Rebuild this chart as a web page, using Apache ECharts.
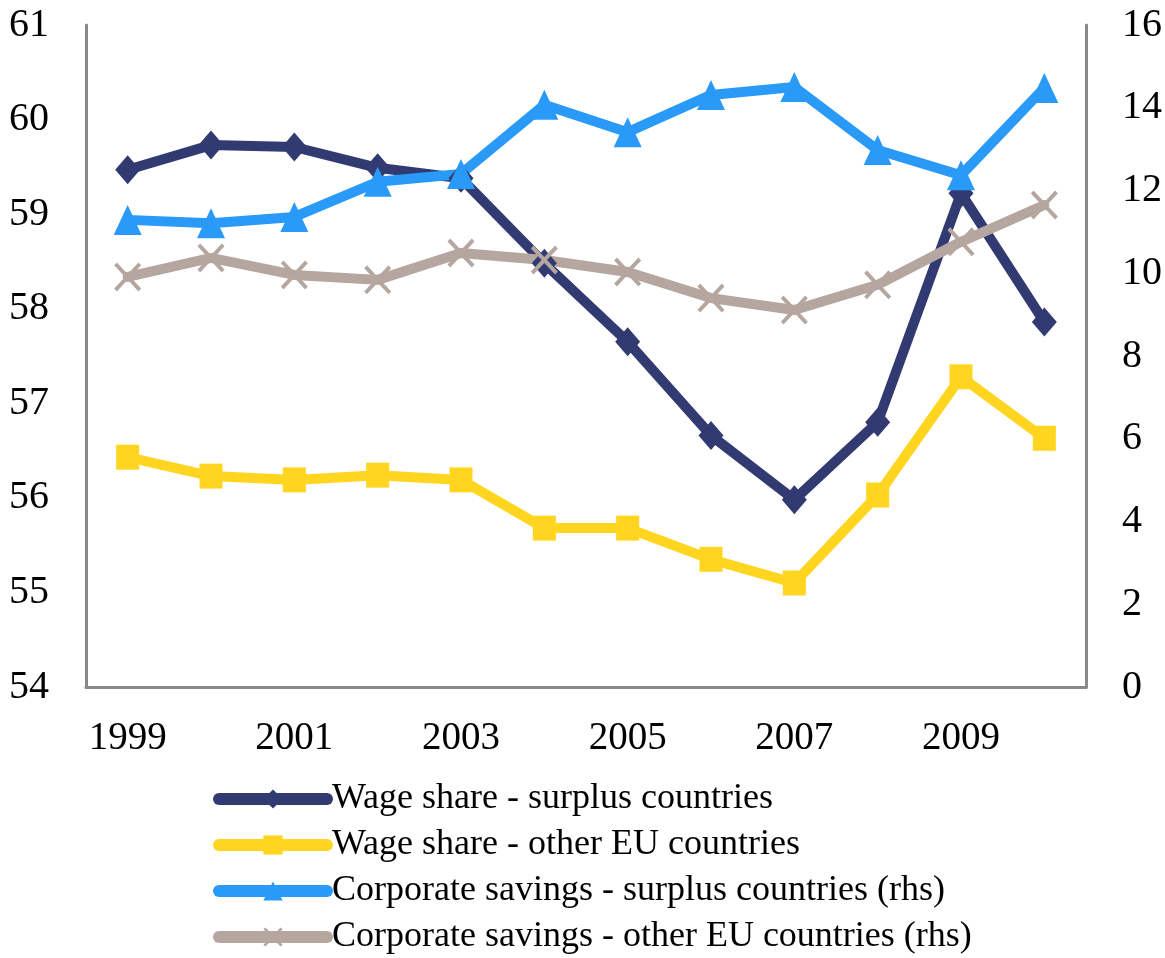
<!DOCTYPE html>
<html>
<head>
<meta charset="utf-8">
<script src="https://cdn.jsdelivr.net/npm/echarts@6/dist/echarts.min.js"></script>
<style>
    html, body { margin: 0; padding: 0; background: #fff; }
    #chart { width: 1165px; height: 958px; }
</style>
</head>
<body>
<div id="chart"></div>
<script>
// categories
const years = ["1999", "2000", "2001", "2002", "2003", "2004", "2005", "2006", "2007", "2008", "2009", "2010"];

// left axis (wage share, %)
const wageSurplus = [59.47, 59.73, 59.71, 59.49, 59.38, 58.48, 57.65, 56.66, 55.98, 56.80, 59.22, 57.86];
const wageOther = [56.43, 56.23, 56.19, 56.24, 56.19, 55.68, 55.68, 55.35, 55.10, 56.03, 57.28, 56.63];

// right axis (corporate savings)
const savingsSurplus = [11.29, 11.21, 11.36, 12.21, 12.40, 14.07, 13.41, 14.31, 14.50, 12.98, 12.37, 14.48];
const savingsOther = [9.91, 10.37, 9.96, 9.84, 10.49, 10.32, 10.03, 9.40, 9.11, 9.72, 10.76, 11.65];

const seriesNames = [
    "Wage share - surplus countries",
    "Wage share - other EU countries",
    "Corporate savings - surplus countries (rhs)",
    "Corporate savings - other EU countries (rhs)",
];

const FONT = "Liberation Serif";
const AXIS_GREY = "#898989";

// thin "x" marker drawn as a filled outline
const xMark = "path://M0,1 L1,0 L5,4 L9,0 L10,1 L6,5 L10,9 L9,10 L5,6 L1,10 L0,9 L4,5 Z";

function lineSeries(name, data, color, symbol, size, yIndex) {
    return {
        name: name,
        type: "line",
        yAxisIndex: yIndex,
        data: data,
        symbol: symbol,
        symbolSize: size,
        showAllSymbol: true,
        itemStyle: { color: color },
        lineStyle: { color: color, width: 10, join: "round", cap: "round" },
        animation: false,
    };
}

const chart = echarts.init(document.getElementById("chart"));
chart.setOption({
    backgroundColor: "#fff",
    grid: { left: 86, right: 79, top: 25, bottom: 271 },
    xAxis: {
        type: "category",
        data: years,
        boundaryGap: true,
        axisLine: { lineStyle: { color: AXIS_GREY, width: 3 } },
        axisTick: { show: false },
        axisLabel: { interval: 1, margin: 32, color: "#000", fontFamily: FONT, fontSize: 39 },
    },
    yAxis: [
        {
            type: "value",
            min: 54,
            max: 61,
            interval: 1,
            axisLine: { show: true, lineStyle: { color: AXIS_GREY, width: 3 } },
            axisTick: { show: false },
            splitLine: { show: false },
            axisLabel: { margin: 37, color: "#000", fontFamily: FONT, fontSize: 40 },
        },
        {
            type: "value",
            min: 0,
            max: 16,
            interval: 2,
            position: "right",
            axisLine: { show: true, lineStyle: { color: AXIS_GREY, width: 3 } },
            axisTick: { show: false },
            splitLine: { show: false },
            axisLabel: { margin: 36, color: "#000", fontFamily: FONT, fontSize: 40 },
        },
    ],
    legend: {
        orient: "vertical",
        left: 208,
        top: 776,
        height: 180,
        itemWidth: 108,
        itemHeight: 24,
        itemGap: 10,
        data: seriesNames,
        lineStyle: { width: 12, cap: "round" },
        textStyle: { color: "#000", fontFamily: FONT, fontSize: 36, lineHeight: 36 },
    },
    series: [
        lineSeries(seriesNames[0], wageSurplus, "#323A72", "diamond", [25, 29], 0),
        lineSeries(seriesNames[1], wageOther, "#FFD520", "rect", [23, 25], 0),
        lineSeries(seriesNames[2], savingsSurplus, "#2A9AF8", "triangle", [28, 30], 1),
        lineSeries(seriesNames[3], savingsOther, "#B5A69F", xMark, [27, 29], 1),
    ],
});
</script>
</body>
</html>
